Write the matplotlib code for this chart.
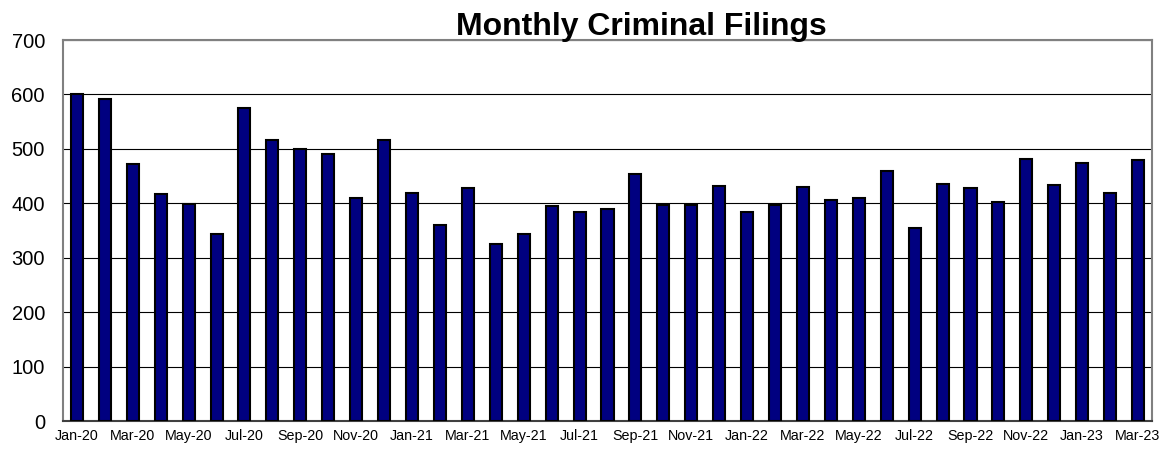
import matplotlib.pyplot as plt

plt.rcParams['font.family'] = ['Liberation Sans', 'DejaVu Sans']

months = ['Jan-20', 'Feb-20', 'Mar-20', 'Apr-20', 'May-20', 'Jun-20',
          'Jul-20', 'Aug-20', 'Sep-20', 'Oct-20', 'Nov-20', 'Dec-20',
          'Jan-21', 'Feb-21', 'Mar-21', 'Apr-21', 'May-21', 'Jun-21',
          'Jul-21', 'Aug-21', 'Sep-21', 'Oct-21', 'Nov-21', 'Dec-21',
          'Jan-22', 'Feb-22', 'Mar-22', 'Apr-22', 'May-22', 'Jun-22',
          'Jul-22', 'Aug-22', 'Sep-22', 'Oct-22', 'Nov-22', 'Dec-22',
          'Jan-23', 'Feb-23', 'Mar-23']
filings = [600, 592, 473, 418, 399, 343, 575, 517, 499, 490, 409, 516,
           419, 360, 429, 326, 344, 395, 384, 390, 453, 397, 396, 431,
           384, 397, 430, 407, 409, 460, 355, 436, 429, 403, 482, 434,
           474, 419, 479]
y_ticks = [0, 100, 200, 300, 400, 500, 600, 700]

fig = plt.figure(figsize=(11.73, 4.5), dpi=100)
ax = fig.add_axes([0.0537, 0.0644, 0.9284, 0.8466])

x = list(range(len(months)))
ax.bar(x, filings, width=0.43, color='#000080', edgecolor='black', linewidth=1.5, zorder=3)

ax.set_xlim(-0.5, len(months) - 0.5)
ax.set_ylim(0, 700)
ax.set_yticks(y_ticks)
ax.set_yticklabels([str(v) for v in y_ticks], fontsize=14.5)
ax.set_xticks(x[::2])
ax.set_xticklabels(months[::2], fontsize=10.3)
ax.tick_params(axis='y', length=0, pad=13)
ax.tick_params(axis='x', length=0, pad=6)

# horizontal grid behind the bars
ax.yaxis.grid(True, color='black', linewidth=0.8, zorder=0)
ax.set_axisbelow(True)
for side in ['top', 'right', 'left', 'bottom']:
    ax.spines[side].set_color('#808080')
    ax.spines[side].set_linewidth(1.5)
ax.spines['bottom'].set_color('#404040')

fig.text(0.547, 0.94, 'Monthly Criminal Filings', ha='center', va='center',
         fontsize=23, fontweight='bold')

plt.savefig('out.png', dpi=100)
